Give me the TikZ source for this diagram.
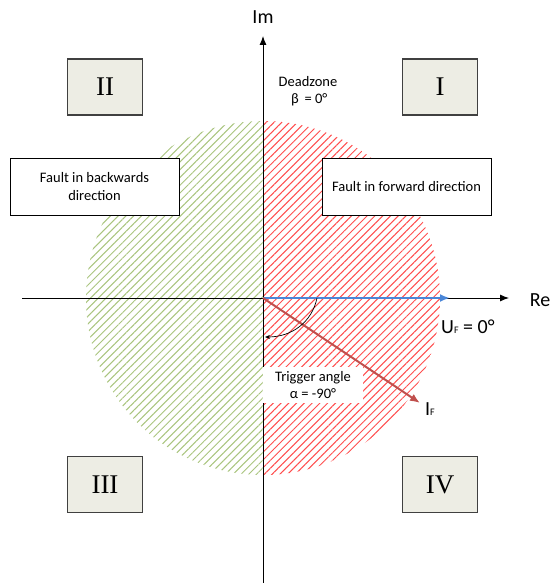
\documentclass[tikz,border=0pt]{standalone}
\usepackage{fontspec}
\setmainfont{Carlito}
\newfontfamily\romanfont{Liberation Serif}
\usetikzlibrary{patterns.meta,arrows.meta}
\definecolor{quadfill}{HTML}{EDEDE4}
\definecolor{hatchred}{HTML}{FF4D4D}
\definecolor{hatchgreen}{HTML}{A9C47E}
\definecolor{ufblue}{HTML}{4A86D8}
\definecolor{ifred}{HTML}{C0504D}
\begin{document}
\begin{tikzpicture}[x=1pt,y=-1pt,
  quad/.style={draw=black!75,line width=1.2pt,fill=quadfill,minimum width=75pt,minimum height=56pt,inner sep=0pt,font=\romanfont\fontsize{27}{27}\selectfont},
  faultbox/.style={draw=black,line width=0.9pt,fill=white,minimum width=169pt,minimum height=57pt,inner sep=0pt,align=center,font=\fontsize{14.5}{18}\selectfont},
  axis/.style={line width=0.9pt,-{Latex[length=9pt,width=7pt]}},
  lbl/.style={font=\fontsize{14.5}{17}\selectfont,align=center,inner sep=0pt},
  big/.style={font=\fontsize{20}{22}\selectfont,inner sep=0pt},
  vec/.style={line width=2pt,-{Latex[length=10pt,width=8pt]}},
  hatch/.style={pattern={Lines[angle=45,distance=5.5pt,line width=1pt]}}
]
\useasboundingbox (0,0) rectangle (553,583);
\coordinate (O) at (263,298);
% hatched halves
\begin{scope}
  \clip (263,0) rectangle (553,583);
  \fill[hatch,pattern color=hatchred] (O) circle[radius=177pt];
\end{scope}
\begin{scope}
  \clip (0,0) rectangle (263,583);
  \fill[hatch,pattern color=hatchgreen] (O) circle[radius=177pt];
\end{scope}
% axes
\coordinate (imB) at (263,583);
\coordinate (imT) at (263,36);
\coordinate (reL) at (22,298);
\coordinate (reR) at (509,298);
\draw[axis] (imB) -- (imT);
\draw[axis] (reL) -- (reR);
\node[big] (im) at (263,17) {Im};
\node[big] (re) at (540,300) {Re};
% quadrant boxes
\node[quad] (q1) at (440,87) {I};
\node[quad] (q2) at (105,87) {II};
\node[quad] (q3) at (105,484.5) {III};
\node[quad] (q4) at (440,484.5) {IV};
% fault boxes
\node[faultbox] (fb) at (94.5,186.5) {Fault in backwards\\direction};
\node[faultbox] (ff) at (406.5,186.5) {Fault in forward direction};
% deadzone
\node[lbl] (dz) at (308,91) {Deadzone\\$\,$β\, = 0°};
% trigger angle
\node[lbl,fill=white,minimum width=100pt,minimum height=36pt] (trig) at (313,385) {Trigger angle\\α = -90°};
% vectors
\coordinate (uf) at (450,298);
\coordinate (if) at (420,403);
\draw[vec,ufblue] (O) -- (uf);
\draw[vec,ifred] (O) -- (if);
\node[big,anchor=west] (uflbl) at (441,327) {U{\fontsize{10}{10}\selectfont F} = 0°};
\node[big,anchor=west] (iflbl) at (425,409) {I{\fontsize{10}{10}\selectfont F}};
% angle arc
\coordinate (arcS) at (317,298);
\coordinate (arcE) at (265,337);
\draw[line width=0.7pt,-{Stealth[length=5pt,width=4pt]}] (arcS) .. controls (312,322) and (292,337) .. (arcE);
\end{tikzpicture}
\end{document}
